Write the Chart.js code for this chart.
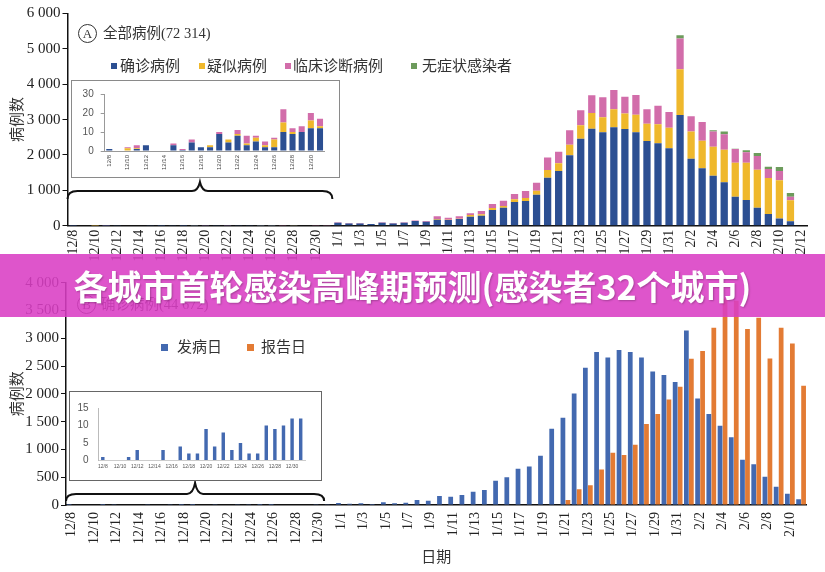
<!DOCTYPE html>
<html><head><meta charset="utf-8">
<script src="https://cdn.jsdelivr.net/npm/chart.js@4.4.1/dist/chart.umd.min.js"></script>
<style>
body{margin:0;background:#fff;width:825px;height:572px;overflow:hidden;position:relative;font-family:"Liberation Serif","Noto Sans CJK SC",serif;color:#333;}
canvas{position:absolute;}
.t{position:absolute;white-space:nowrap;}
.circ{position:absolute;width:17px;height:17px;border:1px solid #333;border-radius:50%;text-align:center;line-height:17px;font-size:13px;font-family:"Liberation Serif",serif;}
.mk{position:absolute;width:6px;height:6px;}
.box{position:absolute;background:#fff;box-sizing:border-box;}
#banner{position:absolute;left:0;top:254px;width:825px;height:63px;background:rgba(218,62,196,0.88);color:#fff;font:700 34px "Noto Sans CJK SC",sans-serif;line-height:63px;text-align:center;z-index:20;text-shadow:1px 1px 2px rgba(0,0,0,0.25);}
</style>
</head><body>

<canvas id="top" width="825" height="270" style="left:0;top:0"></canvas>
<canvas id="bot" width="825" height="302" style="left:0;top:270px"></canvas>

<div class="box" style="left:71px;top:80px;width:269px;height:98px;border:1.5px solid #8a8a8a;z-index:5"></div>
<canvas id="insetTop" width="267" height="96" style="left:72px;top:81px;z-index:6"></canvas>
<div class="box" style="left:69px;top:391px;width:253px;height:90px;border:1.5px solid #666;z-index:5"></div>
<canvas id="insetBot" width="251" height="89" style="left:70px;top:391.7px;z-index:6"></canvas>

<!-- top title & legend -->
<div class="circ" style="left:78px;top:24px">A</div>
<div class="t" style="left:103px;top:24px;font-size:14.5px;line-height:18px">全部病例(72 314)</div>
<div class="mk" style="left:111px;top:63px;background:#2c4f92"></div>
<div class="t" style="left:120px;top:57px;font-size:15px;line-height:18px">确诊病例</div>
<div class="mk" style="left:199px;top:63px;background:#efb82c"></div>
<div class="t" style="left:207px;top:57px;font-size:15px;line-height:18px">疑似病例</div>
<div class="mk" style="left:285px;top:63px;background:#d26daa"></div>
<div class="t" style="left:293px;top:57px;font-size:15px;line-height:18px">临床诊断病例</div>
<div class="mk" style="left:411px;top:63px;background:#6d9b5c"></div>
<div class="t" style="left:422px;top:57px;font-size:15px;line-height:18px">无症状感染者</div>

<!-- bottom title & legend -->
<div class="circ" style="left:77px;top:295px">B</div>
<div class="t" style="left:101px;top:295px;font-size:14.5px;line-height:18px">确诊病例(44 672)</div>
<div class="mk" style="left:161px;top:344px;width:7px;height:7px;background:#4369b0"></div>
<div class="t" style="left:177px;top:338px;font-size:15px;line-height:18px">发病日</div>
<div class="mk" style="left:247px;top:344px;width:7px;height:7px;background:#e37b34"></div>
<div class="t" style="left:261px;top:338px;font-size:15px;line-height:18px">报告日</div>

<div id="banner">各城市首轮感染高峰期预测(感染者32个城市)</div>

<script>
// ---------- data ----------
const topDates = ['12/8','12/9','12/10','12/11','12/12','12/13','12/14','12/15','12/16','12/17','12/18','12/19','12/20','12/21','12/22','12/23','12/24','12/25','12/26','12/27','12/28','12/29','12/30','12/31',
  '1/1','1/2','1/3','1/4','1/5','1/6','1/7','1/8','1/9','1/10','1/11','1/12','1/13','1/14','1/15','1/16','1/17','1/18','1/19','1/20','1/21','1/22','1/23','1/24','1/25','1/26','1/27','1/28','1/29','1/30','1/31',
  '2/1','2/2','2/3','2/4','2/5','2/6','2/7','2/8','2/9','2/10','2/11','2/12'];
const bottomDates = ['12/8','12/9','12/10','12/11','12/12','12/13','12/14','12/15','12/16','12/17','12/18','12/19','12/20','12/21','12/22','12/23','12/24','12/25','12/26','12/27','12/28','12/29','12/30','12/31',
  '1/1','1/2','1/3','1/4','1/5','1/6','1/7','1/8','1/9','1/10','1/11','1/12','1/13','1/14','1/15','1/16','1/17','1/18','1/19','1/20','1/21','1/22','1/23','1/24','1/25','1/26','1/27','1/28','1/29','1/30','1/31',
  '2/1','2/2','2/3','2/4','2/5','2/6','2/7','2/8','2/9','2/10','2/11'];
const insetDays = 24; // 12/8 - 12/31

const confirmed = [1,0,0,1,3,0,0,3,0.5,4.5,2,2,9,4.5,8,3,5,2,2,10,9,10,12,12,
  80,65,65,45,80,65,80,
  130,115,170,160,190,255,283,443,509,670,698,877,1358,1547,1990,2461,2744,2640,2782,2735,2640,2395,2329,2188,
  3131,1895,1622,1415,1226,820,726,509,330,207,123,null];
const suspected = [0,0,1.5,0.5,0,0,0,0,0,0,0,1,0,1.5,1,1,2,1,4,5,1,0,4,1,
  0,0,0,0,0,0,0,
  5,0,20,5,10,45,38,57,47,75,85,113,217,217,302,377,443,425,509,434,500,490,537,585,
  1292,767,783,820,925,962,1056,1075,1018,1075,594,null];
const clinical = [0,0,0.5,1.5,0,0,0,1,0.5,1.5,0,0,1,0,2,4,1,2,1,7,2,3,4,4,
  15,10,10,5,15,10,15,
  15,15,75,60,70,50,95,113,150,150,200,226,350,330,405,425,500,565,547,480,557,406,528,443,
  868,434,528,425,434,387,292,387,255,264,104,null];
const asymptomatic = [0,0,0,0,0,0,0,0,0,0,0,0,0,0,0,0,0,0,0,0,0,0,0,0,
  0,0,0,0,0,0,0,
  0,0,0,0,0,0,0,0,0,0,0,0,0,0,0,0,0,0,0,0,0,0,0,0,
  94,0,0,38,75,10,57,85,66,113,104,null];

const onsetDay = [1,0,0,1,3,0,0,3,0,4,2,2,9,4,8,3,5,2,2,10,9,10,12,12,
  36,24,30,18,48,30,40,
  92,78,162,150,180,240,270,438,498,653,695,887,1373,1571,2008,2470,2752,2656,2788,2752,2656,2404,2338,2212,
  3141,1918,1637,1427,1217,815,731,510,330,204,102];
const reportDay = [0,0,0,0,0,0,0,0,0,0,0,0,0,0,0,0,0,0,0,0,0,0,0,0,
  0,0,0,0,0,0,0,
  0,0,0,0,0,0,0,0,0,0,0,0,0,90,282,354,641,941,899,1085,1457,1637,1900,2128,
  2632,2770,3189,3717,3675,3165,3369,2638,3189,2908,2146];

const yTicksTop = [0,1000,2000,3000,4000,5000,6000];
const yTicksBottom = [0,500,1000,1500,2000,2500,3000,3500,4000];

// ---------- helpers ----------
const SERIF = '"Liberation Serif","Noto Sans CJK SC",serif';
const SANS = '"Liberation Sans","Noto Sans CJK SC",sans-serif';
Chart.defaults.font.family = SERIF;
Chart.defaults.color = '#222';
const fmt = v => String(v).replace(/\B(?=(\d{3})+(?!\d))/g, ' ');

const bracePlugin = {
  id: 'brace',
  afterDraw(chart, args, opts) {
    if (!opts || opts.last == null) return;
    const xs = chart.scales.x, ys = chart.scales.y, ctx = chart.ctx;
    const half = (xs.getPixelForValue(1) - xs.getPixelForValue(0)) / 2;
    const x0 = xs.getPixelForValue(0) - half;
    const x1 = xs.getPixelForValue(opts.last) + half;
    const y = ys.getPixelForValue(opts.level);
    const xm = (x0 + x1) / 2, up = opts.up, drop = opts.drop;
    ctx.save();
    ctx.strokeStyle = '#111'; ctx.lineWidth = 2;
    ctx.beginPath();
    ctx.moveTo(x0, y + drop);
    ctx.quadraticCurveTo(x0, y, x0 + 10, y);
    ctx.lineTo(xm - 8, y);
    ctx.quadraticCurveTo(xm - 2, y, xm, y - up);
    ctx.quadraticCurveTo(xm + 2, y, xm + 8, y);
    ctx.lineTo(x1 - 10, y);
    ctx.quadraticCurveTo(x1, y, x1, y + drop);
    ctx.stroke();
    ctx.restore();
  }
};

function yAxis(max, step, width, ticksList) {
  return {
    stacked: true, min: 0, max: max,
    afterBuildTicks: s => { s.ticks = ticksList.map(v => ({value: v})); },
    ticks: {stepSize: step, padding: 2, font: {size: 15, family: SERIF}, color: '#222', callback: v => fmt(v)},
    grid: {drawOnChartArea: false, drawTicks: true, tickLength: 5, color: '#111'},
    border: {color: '#111', width: 1.5},
    title: {display: true, text: '病例数', font: {size: 15, family: SERIF}, color: '#333', padding: {top: 9, bottom: 0}},
    afterFit: s => { s.width = width; }
  };
}

// ---------- top main chart ----------
new Chart(document.getElementById('top'), {
  type: 'bar',
  data: {
    labels: topDates,
    datasets: [
      {label: '确诊病例', data: confirmed, backgroundColor: '#2c4f92'},
      {label: '疑似病例', data: suspected, backgroundColor: '#efb82c'},
      {label: '临床诊断病例', data: clinical, backgroundColor: '#d26daa'},
      {label: '无症状感染者', data: asymptomatic, backgroundColor: '#6d9b5c'}
    ]
  },
  options: {
    responsive: false, animation: false, devicePixelRatio: 1,
    layout: {padding: {top: 13.5, right: 18, left: 0, bottom: 0}},
    datasets: {bar: {categoryPercentage: 1, barPercentage: 0.66}},
    plugins: {legend: {display: false}, tooltip: {enabled: false},
      brace: {last: 23, level: 980, up: 9, drop: 8}},
    scales: {
      x: {
        stacked: true,
        grid: {display: false, drawTicks: false},
        border: {color: '#111', width: 1.5},
        ticks: {autoSkip: false, minRotation: 90, maxRotation: 90, padding: 4, font: {size: 14, family: SERIF}, color: '#222',
          callback: (v, i) => i % 2 === 0 ? topDates[i] : ''},
        afterFit: s => { s.height = 270 - 225.7; }
      },
      y: yAxis(6000, 1000, 67.5, yTicksTop)
    }
  },
  plugins: [bracePlugin]
});

// ---------- bottom main chart ----------
new Chart(document.getElementById('bot'), {
  type: 'bar',
  data: {
    labels: bottomDates,
    datasets: [
      {label: '发病日', data: onsetDay, backgroundColor: '#4369b0'},
      {label: '报告日', data: reportDay, backgroundColor: '#e37b34'}
    ]
  },
  options: {
    responsive: false, animation: false, devicePixelRatio: 1,
    layout: {padding: {top: 12.7, right: 14, left: 0, bottom: 0}},
    datasets: {bar: {categoryPercentage: 0.89, barPercentage: 0.95}},
    plugins: {legend: {display: false}, tooltip: {enabled: false},
      brace: {last: 22, level: 200, up: 11, drop: 7}},
    scales: {
      x: {
        grid: {display: false, drawTicks: false},
        border: {color: '#111', width: 1.5},
        ticks: {autoSkip: false, minRotation: 90, maxRotation: 90, padding: 7, font: {size: 14, family: SERIF}, color: '#222',
          callback: (v, i) => i % 2 === 0 ? bottomDates[i] : ''},
        title: {display: true, text: '日期', font: {size: 15, family: SERIF}, color: '#333', padding: {top: 0, bottom: 5}},
        afterFit: s => { s.height = 302 - 235; }
      },
      y: Object.assign(yAxis(4000, 500, 66, yTicksBottom), {stacked: false})
    }
  },
  plugins: [bracePlugin]
});

// ---------- top inset ----------
const insetLabels = topDates.slice(0, insetDays);
new Chart(document.getElementById('insetTop'), {
  type: 'bar',
  data: {
    labels: insetLabels,
    datasets: [
      {label: '确诊病例', data: confirmed.slice(0, insetDays), backgroundColor: '#2c4f92'},
      {label: '疑似病例', data: suspected.slice(0, insetDays), backgroundColor: '#efb82c'},
      {label: '临床诊断病例', data: clinical.slice(0, insetDays), backgroundColor: '#d26daa'},
      {label: '无症状感染者', data: asymptomatic.slice(0, insetDays), backgroundColor: '#6d9b5c'}
    ]
  },
  options: {
    responsive: false, animation: false, devicePixelRatio: 1,
    layout: {padding: {top: 13, right: 14.4, left: 0, bottom: 0}},
    datasets: {bar: {categoryPercentage: 1, barPercentage: 0.66}},
    plugins: {legend: {display: false}, tooltip: {enabled: false}},
    scales: {
      x: {
        stacked: true,
        grid: {display: false, drawTicks: false},
        border: {color: '#999', width: 1},
        ticks: {autoSkip: false, minRotation: 90, maxRotation: 90, padding: 4, font: {size: 6, family: SANS}, color: '#444',
          callback: (v, i) => i % 2 === 0 ? insetLabels[i] : ''},
        afterFit: s => { s.height = 26; }
      },
      y: {
        stacked: true, min: 0, max: 30,
        ticks: {stepSize: 10, padding: 7, font: {size: 10, family: SANS}, color: '#555'},
        grid: {drawOnChartArea: false, tickLength: 4, color: '#999'},
        border: {color: '#999', width: 1},
        afterFit: s => { s.width = 32.7; }
      }
    }
  }
});

// ---------- bottom inset ----------
new Chart(document.getElementById('insetBot'), {
  type: 'bar',
  data: {
    labels: insetLabels,
    datasets: [{label: '发病日', data: onsetDay.slice(0, insetDays), backgroundColor: '#4369b0'}]
  },
  options: {
    responsive: false, animation: false, devicePixelRatio: 1,
    layout: {padding: {top: 13.6, right: 16, left: 0, bottom: 0}},
    datasets: {bar: {categoryPercentage: 1, barPercentage: 0.4}},
    plugins: {legend: {display: false}, tooltip: {enabled: false}},
    scales: {
      x: {
        grid: {display: false, drawTicks: false},
        border: {color: '#ccc', width: 1},
        ticks: {autoSkip: false, maxRotation: 0, minRotation: 0, padding: 3, font: {size: 5, family: SANS}, color: '#555',
          callback: (v, i) => i % 2 === 0 ? insetLabels[i] : ''},
        afterFit: s => { s.height = 20.4; }
      },
      y: {
        min: 0, max: 15,
        ticks: {stepSize: 5, padding: 10, font: {size: 10, family: SANS}, color: '#555'},
        grid: {drawOnChartArea: false, drawTicks: false},
        border: {color: '#bbb', width: 1},
        afterFit: s => { s.width = 28.5; }
      }
    }
  }
});
</script>
</body></html>
